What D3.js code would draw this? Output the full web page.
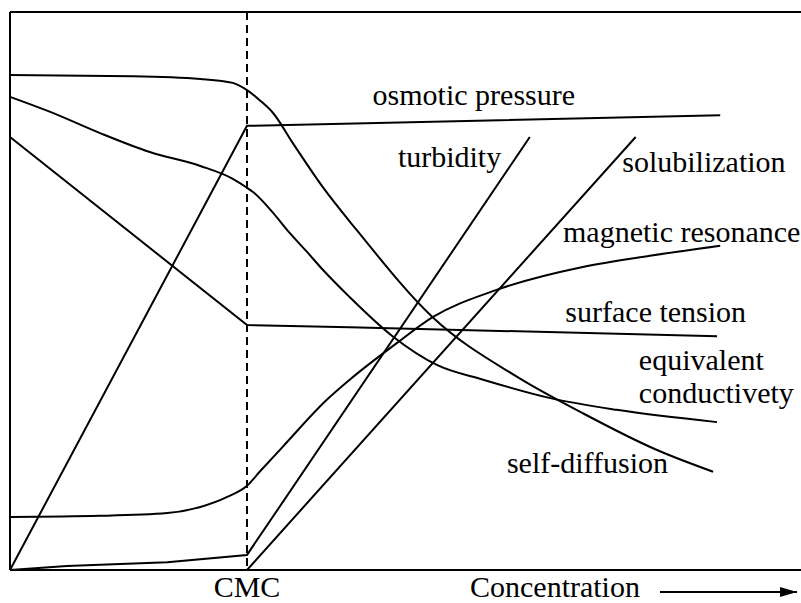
<!DOCTYPE html>
<html>
<head>
	<meta charset="utf-8">
	<title>CMC properties</title>
	<script src="https://cdnjs.cloudflare.com/ajax/libs/d3/7.8.5/d3.min.js"></script>
	<style>
		body { margin: 0; background: white; }
		svg text { font-family: "Liberation Serif", "Times New Roman", "DejaVu Serif", serif; font-size: 30px; fill: black; }
		.curve { fill: none; stroke: black; stroke-width: 2; }
		.frame { stroke: black; stroke-width: 2; }
	</style>
</head>
<body>
	<svg id="chart" width="801" height="603"></svg>
	<script>
		// concentration (0-100, CMC at 30) vs. relative property value (0-100)
		var cmc = 30;
		var osmoticPressure = [[0,0],[30,79.6],[62,80.6],[89.9,81.5]];
		var turbidity = [[0,0],[7.2,0.7],[19.9,1.4],[30,2.7],[65.8,77.6]];
		var solubilization = [[0,0],[30,0],[79.2,77.6]];
		var magneticResonance = [[0,9.5],[11.4,9.7],[19.9,10.2],[24.1,11.3],[27.5,13.1],[30,15.1],[31.6,17.6],[34.6,22.2],[40.1,30.5],[43,34.1],[49,40.7],[53.5,45.3],[61.6,50.2],[72.5,54.3],[81,56.3],[89.9,58.1]];
		var surfaceTension = [[0,77.6],[30,43.9],[43,43.5],[89.5,41.9]];
		var equivConductivity = [[0,84.8],[5.1,82.1],[11.4,78.3],[17.7,74.9],[24.1,72.4],[28.2,70.1],[30,68.5],[30.8,67.7],[33.3,64],[35.4,60.4],[37.6,57],[39.6,53.8],[43,48.9],[48.5,41.8],[54.1,36.7],[59.9,34.1],[68.4,30.8],[76.8,28.7],[89.5,26.5]];
		var selfDiffusion = [[0,88.7],[15.6,88.5],[24.1,88],[28.2,87.3],[30,86],[31.6,84.2],[33.3,81.9],[35.8,76.5],[39.6,68.6],[43.9,60.9],[53.5,45.3],[64.2,34.6],[72.5,28.1],[81.9,21.5],[89,17.6]];
		var xTickLabels = ["CMC"];
		var xAxisTitle = "Concentration";

		var svg = d3.select("#chart");
		var x = d3.scaleLinear().domain([0,100]).range([10,800]);
		var y = d3.scaleLinear().domain([0,100]).range([570,12]);

		var straight = d3.line().x(function(d){return x(d[0]);}).y(function(d){return y(d[1]);});
		var smooth = d3.line().x(function(d){return x(d[0]);}).y(function(d){return y(d[1]);}).curve(d3.curveMonotoneX);

		// frame: top, left, bottom
		svg.append("line").attr("class","frame").attr("x1",x(0)).attr("x2",801).attr("y1",y(100)).attr("y2",y(100));
		svg.append("line").attr("class","frame").attr("x1",x(0)).attr("x2",x(0)).attr("y1",y(100)).attr("y2",y(0));
		svg.append("line").attr("class","frame").attr("x1",x(0)).attr("x2",801).attr("y1",y(0)).attr("y2",y(0));

		// CMC dashed line
		svg.append("line")
			.attr("x1",x(cmc)).attr("x2",x(cmc))
			.attr("y1",y(100)).attr("y2",y(0))
			.attr("stroke","black").attr("stroke-width",2)
			.attr("stroke-dasharray","8,5");

		[osmoticPressure, turbidity, solubilization, surfaceTension].forEach(function(s){
			svg.append("path").attr("class","curve").attr("d",straight(s));
		});
		[magneticResonance, equivConductivity, selfDiffusion].forEach(function(s){
			svg.append("path").attr("class","curve").attr("d",smooth(s));
		});

		// curve labels
		var labels = [
			["osmotic pressure", 45.9, 83.3],
			["turbidity", 49.1, 72.2],
			["solubilization", 77.5, 71.3],
			["magnetic resonance", 70, 58.7],
			["surface tension", 70.3, 44.4],
			["equivalent", 79.6, 35.8],
			["conductivety", 79.6, 29.9],
			["self-diffusion", 62.9, 17.4]
		];
		svg.selectAll("text.lab").data(labels).enter().append("text")
			.attr("class","lab")
			.attr("x",function(d){return x(d[1]);})
			.attr("y",function(d){return y(d[2]);})
			.text(function(d){return d[0];});

		svg.append("text").attr("x",x(cmc)).attr("y",597).attr("text-anchor","middle").text(xTickLabels[0]);
		svg.append("text").attr("x",470).attr("y",597).text(xAxisTitle);

		// arrow after axis title
		svg.append("defs").append("marker")
			.attr("id","arr").attr("viewBox","0 0 10 10").attr("refX",10).attr("refY",5)
			.attr("markerWidth",17).attr("markerHeight",10).attr("markerUnits","userSpaceOnUse")
			.attr("preserveAspectRatio","none")
			.attr("orient","auto")
			.append("path").attr("d","M0,0L10,5L0,10Z").attr("fill","black");
		svg.append("line").attr("x1",660).attr("x2",797).attr("y1",592).attr("y2",592)
			.attr("stroke","black").attr("stroke-width",2).attr("marker-end","url(#arr)");
	</script>
</body>
</html>
